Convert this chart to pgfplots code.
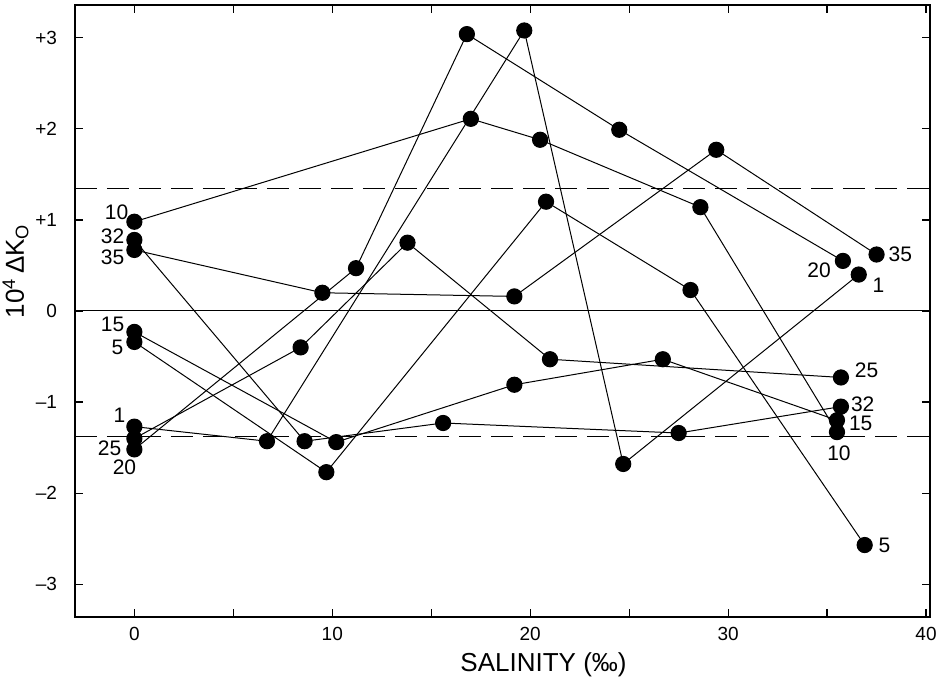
\documentclass[border=0pt]{standalone}
\usepackage{pgfplots}
\pgfplotsset{compat=1.18}
\usepackage{fontspec}
\setmainfont{Liberation Sans}
\begin{document}
\begin{tikzpicture}
\begin{axis}[
  scale only axis, width=427.5pt, height=306pt,
  xmin=-3, xmax=40.2, ymin=-3.36, ymax=3.36,
  xtick={0,5,...,40}, xticklabels={0,,10,,20,,30,,40},
  ytick={-3,-2,-1,0,1,2,3}, yticklabels={\textendash3,\textendash2,\textendash1,0,+1,+2,+3},
  tick align=inside, major tick length=4pt,
  axis line style={line width=0.6pt},
  every tick/.style={black, line width=0.6pt},
  ticklabel style={font=\fontsize{9.5}{11}\selectfont},
  yticklabel style={xshift=-5.5pt},
  xticklabel style={yshift=-1.5pt},
  xlabel={SALINITY (‰)},
  ylabel={10\textsuperscript{4}\,ΔK\textsubscript{O}},
  xlabel style={at={(axis description cs:0.548,-0.0784)}, anchor=center, font=\fontsize{13}{15}\selectfont},
  ylabel style={at={(axis description cs:-0.0695,0.565)}, anchor=center, font=\fontsize{13}{15}\selectfont},
  ser/.style={black, solid, line width=0.5pt, mark=*, mark size=3.8pt, mark options={solid, fill=black, draw=black}},
  clip=false,
]
% reference lines
\addplot[black, line width=0.5pt, mark=none] coordinates {(-3,0) (40.2,0)};
\addplot[black, line width=0.5pt, mark=none, dash pattern=on 11pt off 5pt] coordinates {(-3,1.35) (40.2,1.35)};
\addplot[black, line width=0.5pt, mark=none, dash pattern=on 11pt off 5pt] coordinates {(-3,-1.38) (40.2,-1.38)};
% series (temperature labels)
% 1
\addplot[ser] coordinates {(0,-1.27) (6.7,-1.43) (19.7,3.08) (24.7,-1.68) (36.6,0.40)};
% 5
\addplot[ser] coordinates {(0,-0.34) (9.7,-1.77) (20.8,1.20) (28.1,0.23) (36.9,-2.57)};
% 10
\addplot[ser] coordinates {(0,0.98) (17.0,2.11) (20.5,1.88) (28.6,1.14) (35.5,-1.33)};
% 15
\addplot[ser] coordinates {(0,-0.23) (10.2,-1.44) (19.2,-0.81) (26.7,-0.53) (35.5,-1.20)};
% 20
\addplot[ser] coordinates {(0,-1.52) (11.2,0.47) (16.8,3.04) (24.5,1.99) (35.8,0.55)};
% 25
\addplot[ser] coordinates {(0,-1.40) (8.4,-0.40) (13.8,0.75) (21.0,-0.53) (35.7,-0.73)};
% 32
\addplot[ser] coordinates {(0,0.78) (8.6,-1.43) (15.6,-1.23) (27.5,-1.34) (35.7,-1.05)};
% 35
\addplot[ser] coordinates {(0,0.67) (9.5,0.20) (19.2,0.16) (29.4,1.77) (37.5,0.62)};
% left labels
\begin{scope}[every node/.style={font=\fontsize{10.5}{12}\selectfont, inner sep=0pt}]
\node at (axis cs:-0.9,1.08) {10};
\node at (axis cs:-1.1,0.82) {32};
\node at (axis cs:-1.1,0.59) {35};
\node at (axis cs:-1.1,-0.15) {15};
\node at (axis cs:-0.85,-0.40) {5};
\node at (axis cs:-0.75,-1.15) {1};
\node at (axis cs:-1.25,-1.51) {25};
\node at (axis cs:-0.5,-1.72) {20};
% right labels
\node at (axis cs:38.7,0.62) {35};
\node at (axis cs:34.6,0.45) {20};
\node at (axis cs:37.6,0.28) {1};
\node at (axis cs:37.0,-0.65) {25};
\node at (axis cs:36.8,-1.02) {32};
\node at (axis cs:36.7,-1.23) {15};
\node at (axis cs:35.6,-1.56) {10};
\node at (axis cs:37.9,-2.57) {5};
\end{scope}
\end{axis}
\pgfresetboundingbox
\useasboundingbox ([shift={(-37.5pt,-32pt)}]current axis.south west) rectangle ([shift={(9.5pt,2.5pt)}]current axis.north east);
\end{tikzpicture}
\end{document}
